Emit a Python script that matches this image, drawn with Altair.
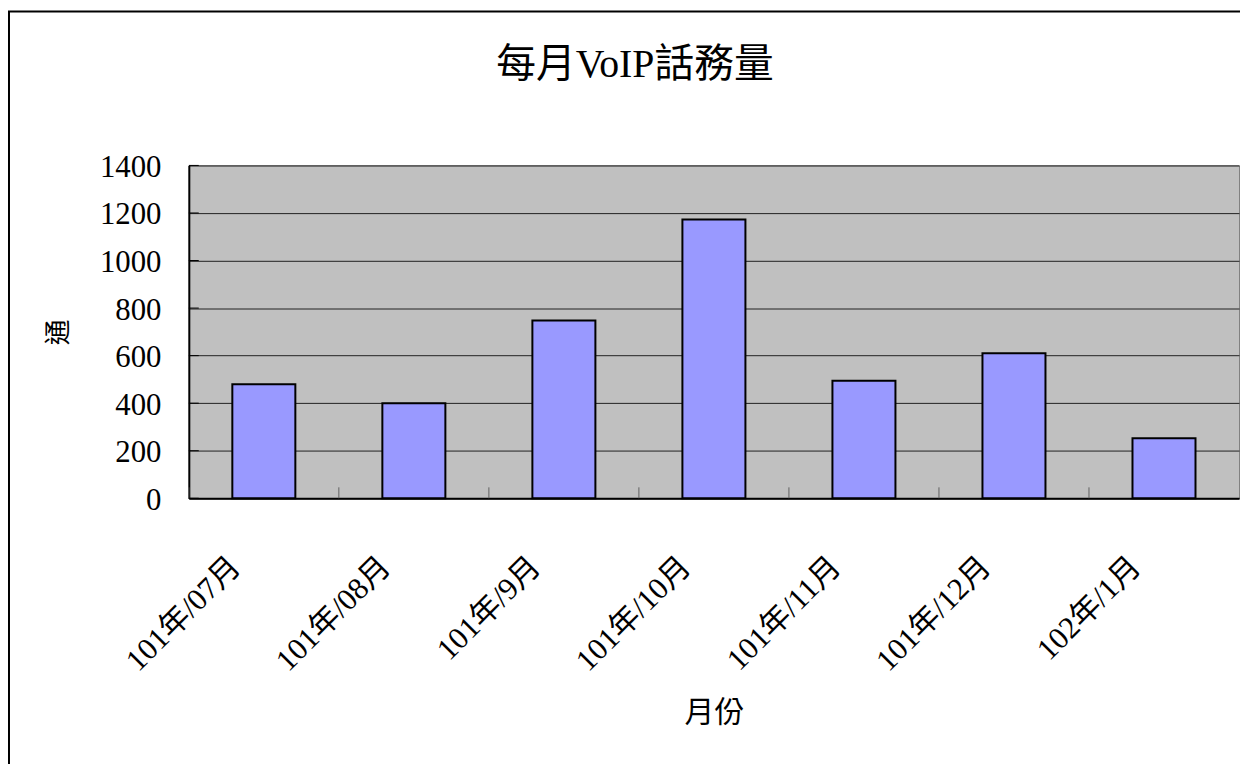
import altair as alt
import pandas as pd

title_text = "每月VoIP話務量"
months = ["101年/07月", "101年/08月", "101年/9月", "101年/10月", "101年/11月", "101年/12月", "102年/1月"]
calls = [480, 400, 748, 1173, 494, 610, 252]
y_ticks = [0, 200, 400, 600, 800, 1000, 1200, 1400]

FONT = "'Liberation Serif', 'Noto Sans CJK TC', serif"

df = pd.DataFrame({"month": months, "calls": calls})
tick_df = pd.DataFrame({"calls": y_ticks})
frame_df = pd.DataFrame({"a": [0]})

xscale = alt.Scale(domain=months, paddingInner=0, paddingOuter=0)
yscale = alt.Scale(domain=[0, 1400], nice=False)

x_axis = alt.Axis(
    title="月份", labelAngle=315, labelAlign="right", labelBaseline="middle",
    labelPadding=64, labelOffset=-28, ticks=False, grid=False,
    domainColor="black", domainWidth=2, labelFont=FONT, labelFontSize=31,
    labelColor="black", labelOverlap=False, titleFont=FONT, titleFontSize=30,
    titleFontWeight="normal", titleColor="black", titleY=216, titleBaseline="middle",
)
y_axis = alt.Axis(
    title="通", values=y_ticks, format="d", ticks=False, labelPadding=28, labelOffset=2,
    domainColor="black", domainWidth=2, grid=True, gridColor="#202020", gridWidth=1,
    gridOpacity=1, labelFont=FONT, labelFontSize=31, labelColor="black",
    titleFont=FONT, titleFontSize=26, titleFontWeight="normal", titleColor="black",
    titleX=-131, titleY=167.5, titleAlign="center", titleBaseline="middle",
)

X = alt.X("month:N", sort=months, scale=xscale, axis=x_axis)
Y = alt.Y("calls:Q", scale=yscale, axis=y_axis)

outer = alt.Chart(frame_df).mark_rect(filled=False, stroke="black", strokeWidth=2).encode(
    x=alt.value(-181), x2=alt.value(1300), y=alt.value(-155), y2=alt.value(800)
)

title = alt.Chart(frame_df).mark_text(
    text=title_text, font=FONT, fontSize=40, color="black", align="center", baseline="middle"
).encode(x=alt.value(449), y=alt.value(-101))

bars = alt.Chart(df).mark_bar(
    color="#9999FF", stroke="black", strokeWidth=2, width=alt.RelativeBandSize(0.42)
).encode(x=X, y=Y)

xticks = alt.Chart(df).mark_rule(color="#606060", strokeWidth=1).encode(
    x=alt.X("month:N", sort=months, scale=xscale, bandPosition=0, axis=x_axis),
    y=alt.value(324), y2=alt.value(335),
)

yticks = alt.Chart(tick_df).mark_rule(color="black", strokeWidth=1).encode(
    y=Y, x=alt.value(0), x2=alt.value(10),
)

chart = alt.layer(outer, title, bars, xticks, yticks).properties(
    width=1057, height=335,
    autosize=alt.AutoSizeParams(type="none"),
    padding={"left": 182, "top": 156, "right": 1, "bottom": 265},
).configure(
    background="white",
    view=alt.ViewConfig(fill="#C0C0C0", stroke="#808080", strokeWidth=1),
)

chart.save("out.html", embed_options={"renderer": "svg", "actions": False})
